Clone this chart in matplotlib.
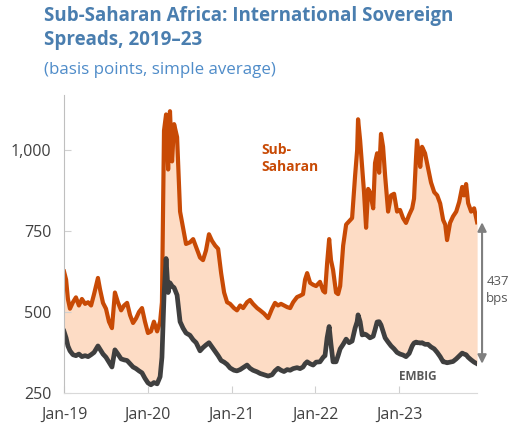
import matplotlib.pyplot as plt
import matplotlib.dates as mdates
import pandas as pd

plt.rcParams['font.family'] = ['Open Sans', 'DejaVu Sans']

dates = ["2019-01-01", "2019-01-10", "2019-01-18", "2019-01-27", "2019-02-09", "2019-02-22",
         "2019-03-07", "2019-03-20", "2019-04-03", "2019-04-16", "2019-04-29", "2019-05-12",
         "2019-05-29", "2019-06-07", "2019-06-20", "2019-07-03", "2019-07-16", "2019-07-29",
         "2019-08-11", "2019-08-24", "2019-09-07", "2019-09-20", "2019-10-03", "2019-10-16",
         "2019-10-29", "2019-11-11", "2019-11-24", "2019-12-07", "2019-12-20", "2020-01-02",
         "2020-01-15", "2020-01-28", "2020-02-11", "2020-02-24", "2020-03-03", "2020-03-12",
         "2020-03-21", "2020-03-30", "2020-04-07", "2020-04-16", "2020-04-25", "2020-05-08",
         "2020-05-21", "2020-06-03", "2020-06-16", "2020-07-03", "2020-07-17", "2020-07-30",
         "2020-08-16", "2020-08-29", "2020-09-11", "2020-09-24", "2020-10-07", "2020-10-21",
         "2020-11-03", "2020-11-16", "2020-11-29", "2020-12-12", "2020-12-25", "2021-01-11",
         "2021-01-24", "2021-02-07", "2021-02-20", "2021-03-09", "2021-03-22", "2021-04-04",
         "2021-04-22", "2021-05-05", "2021-05-22", "2021-06-09", "2021-06-26", "2021-07-09",
         "2021-07-22", "2021-08-04", "2021-08-17", "2021-08-31", "2021-09-13", "2021-09-26",
         "2021-10-13", "2021-10-26", "2021-11-08", "2021-11-17", "2021-11-26", "2021-12-09",
         "2021-12-22", "2022-01-04", "2022-01-21", "2022-02-04", "2022-02-12", "2022-02-21",
         "2022-03-02", "2022-03-10", "2022-03-19", "2022-04-01", "2022-04-10", "2022-04-19",
         "2022-05-02", "2022-05-15", "2022-05-28", "2022-06-10", "2022-06-23", "2022-07-02",
         "2022-07-06", "2022-07-15", "2022-07-24", "2022-08-01", "2022-08-10", "2022-08-19",
         "2022-08-27", "2022-09-10", "2022-09-18", "2022-09-27", "2022-10-06", "2022-10-14",
         "2022-10-23", "2022-11-01", "2022-11-14", "2022-11-27", "2022-12-10", "2022-12-23",
         "2023-01-05", "2023-01-18", "2023-01-31", "2023-02-14", "2023-02-27", "2023-03-07",
         "2023-03-16", "2023-03-20", "2023-03-29", "2023-04-03", "2023-04-11", "2023-04-24",
         "2023-05-07", "2023-05-20", "2023-06-03", "2023-06-16", "2023-06-29", "2023-07-12",
         "2023-07-21", "2023-07-29", "2023-08-11", "2023-08-24", "2023-09-07", "2023-09-20",
         "2023-10-03", "2023-10-11", "2023-10-20", "2023-10-29", "2023-11-11", "2023-11-24",
         "2023-12-07"]

ssa = [625, 600, 540, 510, 530, 545, 520, 540, 525, 530, 520, 555,
       605, 570, 528, 510, 470, 450, 560, 530, 505, 520, 528, 490,
       466, 480, 500, 512, 470, 435, 440, 470, 440, 470, 530, 1060,
       1110, 940, 1120, 965, 1080, 1040, 810, 760, 710, 715, 725, 700,
       668, 660, 690, 740, 720, 705, 695, 620, 560, 530, 525, 512,
       505, 520, 512, 530, 537, 525, 512, 505, 495, 481, 510, 528,
       520, 525, 520, 515, 512, 530, 546, 550, 555, 600, 620, 590,
       584, 580, 593, 565, 560, 650, 725, 660, 630, 560, 555, 580,
       705, 770, 780, 790, 920, 1000, 1095, 1030, 945, 870, 760, 880,
       870, 820, 960, 990, 930, 1050, 1010, 920, 810, 860, 865, 810,
       815, 790, 775, 800, 820, 850, 980, 1030, 980, 948, 1010, 990,
       945, 900, 870, 860, 835, 784, 770, 722, 775, 795, 810, 840,
       886, 860, 895, 836, 810, 820, 777]

embig = [440, 420, 395, 380, 368, 365, 370, 362, 365, 362, 368, 375,
         395, 385, 370, 360, 345, 330, 383, 370, 355, 352, 350, 340,
         330, 325, 318, 312, 295, 281, 275, 282, 278, 300, 360, 550,
         665, 560, 590, 580, 575, 552, 470, 450, 435, 428, 414, 405,
         380, 390, 398, 405, 392, 378, 365, 350, 345, 338, 327, 320,
         318, 322, 328, 336, 326, 320, 315, 310, 306, 302, 306, 318,
         326, 320, 316, 322, 320, 325, 328, 325, 330, 340, 346, 340,
         336, 345, 346, 360, 365, 420, 455, 400, 346, 346, 365, 386,
         400, 416, 405, 410, 450, 470, 491, 470, 429, 432, 430, 425,
         420, 425, 445, 469, 470, 460, 440, 420, 407, 395, 386, 375,
         370, 367, 362, 372, 395, 404, 407, 405, 405, 404, 405, 400,
         400, 392, 386, 375, 362, 346, 345, 343, 345, 347, 355, 364,
         373, 370, 368, 360, 352, 345, 340]

gap_label = "437\nbps"
xtick_years = ["2019-01-01", "2020-01-01", "2021-01-01", "2022-01-01", "2023-01-01"]
ytick_vals = [250, 500, 750, 1000]

d = pd.to_datetime(dates)

fig = plt.figure(figsize=(5.10, 4.28), dpi=100)
ax = fig.add_axes([0.1255, 0.082, 0.81, 0.696])

ax.fill_between(d, embig, ssa, color='#FDDCC5', lw=0)
ax.plot(d, ssa, color='#C84A05', lw=3.0, solid_joinstyle='round')
ax.plot(d, embig, color='#3F3F3F', lw=3.4, solid_joinstyle='round')

ax.set_xlim(d[0], d[-1])
ax.set_ylim(250, 1170)
ax.set_yticks(ytick_vals)
ax.set_yticklabels([f"{v:,}" for v in ytick_vals])
ax.set_xticks(pd.to_datetime(xtick_years))
ax.xaxis.set_major_formatter(mdates.DateFormatter('%b-%y'))

for s in ['top', 'right']:
    ax.spines[s].set_visible(False)
ax.spines['left'].set_color('#BFBFBF')
ax.spines['bottom'].set_color('#D9D9D9')
ax.tick_params(axis='both', direction='in', length=5, color='#D0D0D0',
               labelsize=11.5, labelcolor='#404040')
ax.tick_params(axis='y', pad=9)
ax.tick_params(axis='x', pad=10)

ax.text(pd.Timestamp("2021-05-10"), 975, "Sub-\nSaharan", color='#C84A05',
        fontsize=10, fontweight='bold', va='center', ha='left', linespacing=1.3)
ax.text(pd.Timestamp("2023-03-25"), 302, "EMBIG", color='#595959',
        fontsize=8.5, fontweight='bold', va='center', ha='center')

ax.annotate("", xy=(1.012, ssa[-1]), xytext=(1.012, embig[-1]),
            xycoords=('axes fraction', 'data'), textcoords=('axes fraction', 'data'),
            arrowprops=dict(arrowstyle='<|-|>', color='#7F7F7F', lw=1.5,
                            shrinkA=0, shrinkB=0, mutation_scale=13),
            annotation_clip=False)
ax.text(1.022, (ssa[-1] + embig[-1]) / 2 + 10, gap_label, transform=ax.get_yaxis_transform(),
        color='#595959', fontsize=9.5, ha='left', va='center', linespacing=1.45)

fig.text(0.086, 0.986, "Sub-Saharan Africa: International Sovereign\nSpreads, 2019\u201323",
         color='#4A7EAF', fontsize=13.5, fontweight='bold', va='top', ha='left',
         linespacing=1.25)
fig.text(0.086, 0.855, "(basis points, simple average)", color='#4F8CC9',
         fontsize=12.2, va='top', ha='left')

fig.savefig("out.png", dpi=100)
